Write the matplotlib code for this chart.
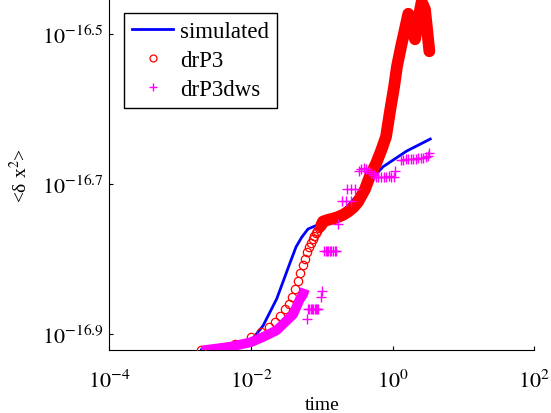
import numpy as np
import matplotlib
matplotlib.use("Agg")
import matplotlib.pyplot as plt
from matplotlib.lines import Line2D
from matplotlib.ticker import NullLocator

plt.rcParams["font.family"] = ["Liberation Serif", "DejaVu Serif"]
plt.rcParams["mathtext.fontset"] = "stix"

MAG = "#ff00ff"

# simulated curve (log10 of <dx^2>)
t_sim = [0.002, 0.004, 0.007, 0.0104, 0.0148, 0.0231, 0.0356, 0.0432, 0.052, 0.0638,
         0.080, 0.1006, 0.1535, 0.234, 0.366, 0.731, 1.58, 3.4]
y_sim = [-16.921, -16.919, -16.914, -16.907, -16.889, -16.853, -16.805, -16.784, -16.771, -16.760,
         -16.756, -16.753, -16.745, -16.729, -16.708, -16.677, -16.656, -16.640]

# drP3, early (separate circles)
t_p3 = [0.002, 0.006, 0.010, 0.014, 0.018, 0.022, 0.026, 0.030, 0.034, 0.038,
        0.042, 0.046, 0.050, 0.054, 0.058, 0.062, 0.066, 0.070, 0.074, 0.078,
        0.082, 0.086, 0.090, 0.094, 0.098]
y_p3 = [-16.921, -16.913, -16.904, -16.897, -16.891, -16.884, -16.876, -16.867, -16.860, -16.850,
        -16.840, -16.829, -16.818, -16.808, -16.800, -16.791, -16.784, -16.778, -16.773, -16.769,
        -16.765, -16.762, -16.759, -16.757, -16.755]
# drP3, late (dense samples, merged into a band)
t_p3b = [0.098, 0.104, 0.12, 0.145, 0.169, 0.2, 0.234, 0.28, 0.324, 0.407, 0.479, 0.582,
         0.685, 0.806, 0.918, 1.046, 1.153, 1.313, 1.495, 1.665, 1.858, 2.07, 2.30, 2.57,
         2.86, 3.09, 3.30]
y_p3b = [-16.755, -16.750, -16.748, -16.746, -16.744, -16.741, -16.737, -16.731, -16.724, -16.707,
         -16.689, -16.673, -16.656, -16.637, -16.603, -16.571, -16.543, -16.517, -16.493, -16.473,
         -16.489, -16.507, -16.480, -16.457, -16.467, -16.497, -16.523]

# drP3dws, early dense band
t_dws_band = [0.002, 0.00506, 0.0099, 0.0148, 0.0231, 0.032, 0.0393, 0.0493, 0.054, 0.058]
y_dws_band = [-16.922, -16.917, -16.911, -16.904, -16.895, -16.882, -16.874, -16.853, -16.848, -16.840]
# drP3dws, later points
t_dws = [0.0612,
         0.064, 0.067, 0.070, 0.073, 0.076, 0.079, 0.082, 0.085, 0.088,
         0.0994, 0.098,
         0.108, 0.113, 0.118, 0.124, 0.130, 0.137, 0.144, 0.152, 0.160,
         0.1717,
         0.19, 0.22, 0.26,
         0.23, 0.26, 0.29,
         0.33, 0.36, 0.39, 0.42, 0.46, 0.50, 0.54, 0.58, 0.63, 0.69, 0.75, 0.81, 0.88, 0.95, 1.03,
         1.07,
         1.30, 1.41, 1.53, 1.66, 1.80, 1.95, 2.12, 2.30, 2.50, 2.70, 2.93, 3.18, 3.30]
y_dws = [-16.880,
         -16.867, -16.867, -16.867, -16.867, -16.867, -16.867, -16.867, -16.867, -16.867,
         -16.842, -16.851,
         -16.789, -16.789, -16.789, -16.789, -16.789, -16.789, -16.789, -16.789, -16.789,
         -16.753,
         -16.722, -16.722, -16.722,
         -16.707, -16.707, -16.707,
         -16.683, -16.680, -16.679, -16.680, -16.682, -16.685, -16.688, -16.690, -16.690, -16.690,
         -16.691, -16.690, -16.689, -16.690, -16.690,
         -16.682,
         -16.668, -16.668, -16.667, -16.667, -16.666, -16.666, -16.666, -16.665, -16.665, -16.665,
         -16.664, -16.662, -16.659]

xticks = [1e-4, 1e-2, 1e0, 1e2]
xlabels = [r"$10^{-4}$", r"$10^{-2}$", r"$10^{0}$", r"$10^{2}$"]
yticks_exp = [-16.9, -16.7, -16.5]
ylabels = [r"$10^{-16.9}$", r"$10^{-16.7}$", r"$10^{-16.5}$"]

fig = plt.figure(figsize=(5.51, 4.14), dpi=100)
ax = fig.add_axes([0.1984, 0.1522, 0.7713, 0.8478])

ax.plot(t_sim, 10.0 ** np.array(y_sim), color="#0000ff", lw=2, zorder=2)
ax.plot(t_p3, 10.0 ** np.array(y_p3), ls="none", marker="o", ms=6, mfc="none",
        mec="#ff0000", mew=0.9, zorder=3)
ax.plot(t_p3b, 10.0 ** np.array(y_p3b), color="#ff0000", lw=8.5, solid_capstyle="round",
        solid_joinstyle="round", zorder=3)
ax.plot(t_dws_band, 10.0 ** np.array(y_dws_band), color=MAG, lw=7, solid_capstyle="butt",
        zorder=4)
ax.plot(t_dws, 10.0 ** np.array(y_dws), ls="none", marker="+", ms=7, mew=1.0,
        color=MAG, zorder=4)

ax.set_xscale("log")
ax.set_yscale("log")
ax.set_xlim(1e-4, 1e2)
ax.set_ylim(10 ** -16.9213, 10 ** -16.4533)
ax.set_xticks(xticks, xlabels)
ax.set_yticks([10 ** e for e in yticks_exp], ylabels)
ax.xaxis.set_minor_locator(NullLocator())
ax.yaxis.set_minor_locator(NullLocator())
ax.tick_params(direction="in", length=3, width=0.8, labelsize=16)
ax.tick_params(axis="x", pad=14)
ax.tick_params(axis="y", pad=4)
for s in ["top", "right"]:
    ax.spines[s].set_visible(False)
for s in ["left", "bottom"]:
    ax.spines[s].set_linewidth(0.8)

ax.set_xlabel("time", fontsize=14, labelpad=3)
ax.set_ylabel("<δ x$^{2}$>", fontsize=14, labelpad=8)

handles = [
    Line2D([], [], color="#0000ff", lw=2),
    Line2D([], [], ls="none", marker="o", ms=5, mfc="none", mec="#ff0000", mew=0.9),
    Line2D([], [], ls="none", marker="+", ms=6, mew=1.0, color=MAG),
]
leg = ax.legend(handles, ["simulated", "drP3", "drP3dws"], loc="upper left",
                bbox_to_anchor=(0.0346, 0.960), borderaxespad=0, fontsize=16.5,
                handlelength=1.8, handletextpad=0.3, labelspacing=0.35, borderpad=0.35,
                fancybox=False, framealpha=1)
leg.get_frame().set_edgecolor("black")
leg.get_frame().set_linewidth(1.0)

fig.savefig("out.png", dpi=100)
